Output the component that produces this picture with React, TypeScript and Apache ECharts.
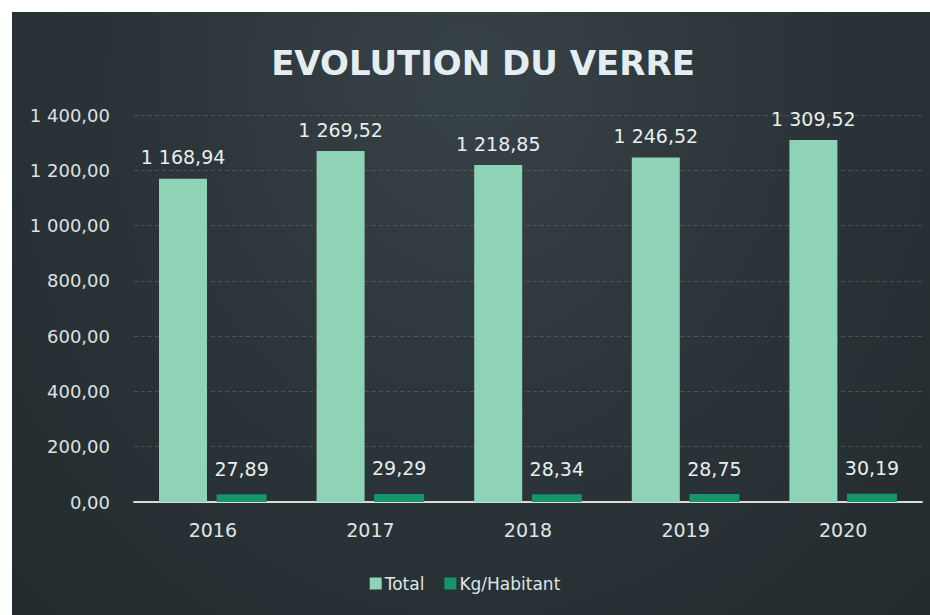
import React, { useEffect, useRef } from "react";
import * as echarts from "echarts";

const categories = ["2016", "2017", "2018", "2019", "2020"];
const totalValues = [1168.94, 1269.52, 1218.85, 1246.52, 1309.52];
const kgValues = [27.89, 29.29, 28.34, 28.75, 30.19];
const seriesNames = ["Total", "Kg/Habitant"];
const titleText = "EVOLUTION DU VERRE";

function fmt(v: number): string {
  const [i, d] = v.toFixed(2).split(".");
  const withSpaces = i.replace(/\B(?=(\d{3})+(?!\d))/g, " ");
  return withSpaces + "," + d;
}

const FONT = "'DejaVu Sans', sans-serif";

export default function App() {
  const ref = useRef<HTMLDivElement>(null);
  useEffect(() => {
    if (!ref.current) return;
    const chart = echarts.init(ref.current, null, { renderer: "svg" });
    chart.setOption({
      animation: false,
      backgroundColor: "transparent",
      title: {
        text: titleText,
        left: 478,
        top: 41,
        textAlign: "center",
        textStyle: {
          fontFamily: FONT,
          fontSize: 34,
          fontWeight: "bold",
          color: "#e4eef2",
        },
      },
      legend: {
        data: seriesNames,
        bottom: 18,
        left: "center",
        itemWidth: 12,
        itemHeight: 12,
        itemGap: 20,
        icon: "rect",
        textStyle: { fontFamily: FONT, fontSize: 17, color: "#dfe5e5", padding: [0, 0, 0, -2] },
      },
      grid: { left: 134, right: 8, top: 115, bottom: 113, containLabel: false },
      xAxis: {
        type: "category",
        data: categories,
        axisLine: { show: true, lineStyle: { color: "#d9dcdb", width: 2 } },
        axisTick: { show: false },
        axisLabel: { fontFamily: FONT, fontSize: 19, color: "#e0e4e4", margin: 18 },
      },
      yAxis: {
        type: "value",
        min: 0,
        max: 1400,
        interval: 200,
        axisLine: { show: false },
        axisTick: { show: false },
        splitLine: { lineStyle: { color: "rgba(150,120,110,0.4)", width: 1, type: [4, 3] } },
        axisLabel: {
          fontFamily: FONT,
          fontSize: 18,
          color: "#dde2e2",
          margin: 24,
          formatter: (v: number) => fmt(v),
        },
      },
      series: [
        {
          name: seriesNames[0],
          type: "bar",
          data: totalValues,
          barWidth: 48,
          barGap: "20%",
          itemStyle: { color: "#8ed3b6" },
          label: {
            show: true,
            position: "top",
            distance: 12,
            fontFamily: FONT,
            fontSize: 19,
            color: "#e8eeee",
            formatter: (p: any) => fmt(p.value),
          },
        },
        {
          name: seriesNames[1],
          type: "bar",
          data: kgValues,
          barWidth: 50,
          itemStyle: { color: "#16946a" },
          label: {
            show: true,
            position: "top",
            distance: 16,
            fontFamily: FONT,
            fontSize: 19,
            color: "#e8eeee",
            formatter: (p: any) => fmt(p.value),
          },
        },
      ],
    });
    return () => chart.dispose();
  }, []);
  return (
    <div style={{ position: "fixed", left: 0, top: 0, right: 0, bottom: 0, background: "#fff" }}>
      <div
        style={{
          position: "absolute",
          left: 12,
          top: 12,
          right: 0,
          bottom: 0,
          background: "radial-gradient(ellipse at 50% 12%, #374247 0%, #2a3337 55%, #232b2e 100%)",
        }}
      />
      <div ref={ref} style={{ position: "absolute", left: 0, top: 0, width: 930, height: 615 }} />
    </div>
  );
}
